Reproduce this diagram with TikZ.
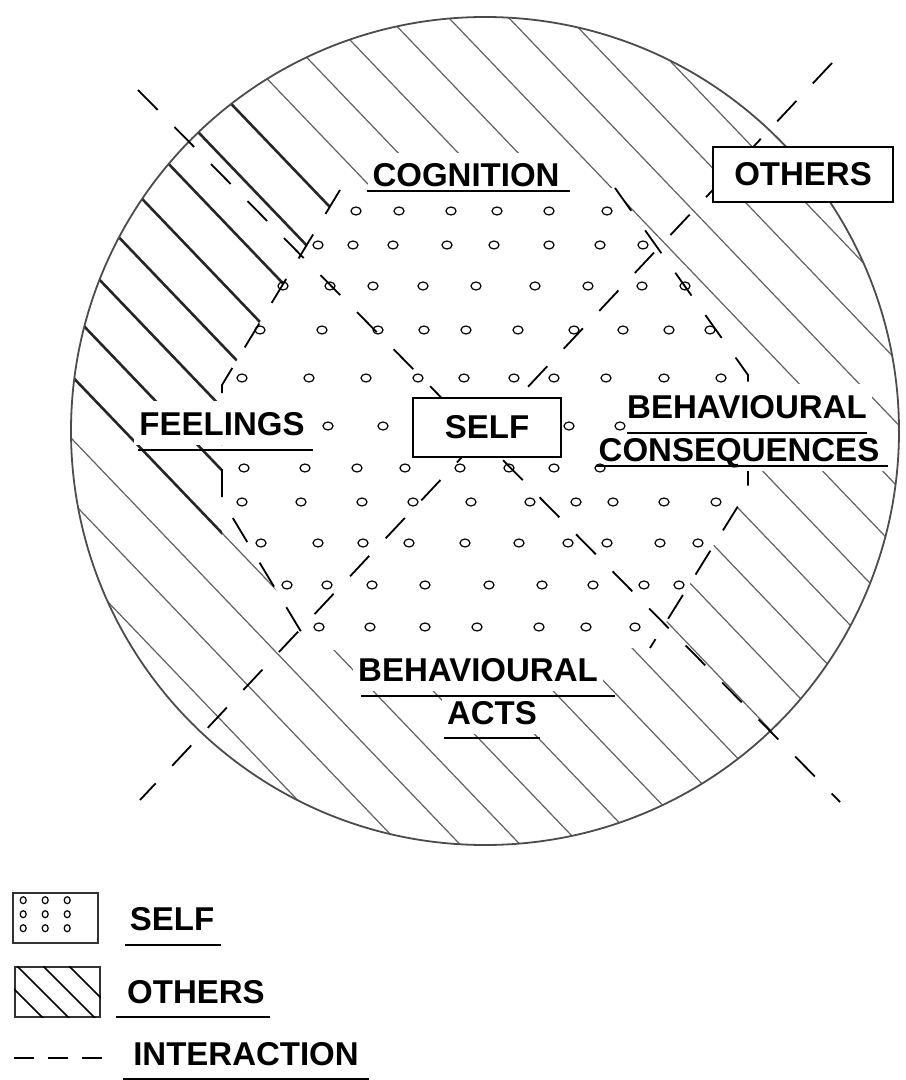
\documentclass[tikz,border=0pt]{standalone}
\usepackage{fontspec}
\setmainfont{Liberation Sans}
\usetikzlibrary{calc}
\newcommand{\labfont}{\fontsize{16.5}{19}\selectfont\bfseries}

\begin{document}
\begin{tikzpicture}[x=0.5pt, y=-0.5pt,
                    hatch/.style={gray!75!black, line width=0.6pt},
                    darkhatch/.style={black!85, line width=1.3pt},
                    interact/.style={line width=0.9pt, dash pattern=on 14pt off 12pt},
                    dot/.style={line width=0.6pt},
                    lab/.style={font=\labfont, fill=white, inner xsep=2.5pt,
                                inner ysep=5pt, text height=12pt, text depth=0pt},
                    labbox/.style={font=\labfont, draw, fill=white, line width=1pt,
                                   inner sep=0pt},
                    keybox/.style={draw=black!80, line width=0.8pt, minimum width=42.5pt,
                                   minimum height=25pt, inner sep=0pt},
                    uline/.style={line width=0.7pt}]
  \useasboundingbox (0,0) rectangle (905,1080);

  % others: hatching inside the circle
  \begin{scope}
    \clip (485,431) circle (414);
    \foreach \k [evaluate=\k as \p using 12+60*\k] in {-13,...,15}
      \draw[hatch] ({\p-96},-100) -- ({\p+957},1000);
    \begin{scope}
      \clip (0,0) -- (200,0) -- (345,192) -- (222,385) -- (222,552) -- (0,310) -- cycle;
      \foreach \k [evaluate=\k as \p using 12+60*\k] in {-5,...,2}
        \draw[darkhatch] ({\p-96},-100) -- ({\p+957},1000);
    \end{scope}
  \end{scope}

  % self: inner region, cut out of the hatching
  \fill[white] (340,190) -- (615,188) -- (748,375) -- (748,490) -- (650,648)
               -- (312,650) -- (222,500) -- (222,385) -- cycle;
  \draw[gray!60!black, line width=0.9pt] (485,431) circle (414);

  % interaction: border of self and the two diagonals
  \draw[interact] (340,190) -- (222,385) -- (222,500) -- (312,650);
  \draw[interact] (615,188) -- (748,375) -- (748,490) -- (650,648);
  \draw[interact] (138,90) -- (840,802);
  \draw[interact] (832,63) -- (140,800);

  % labels
  \node[lab] (cog) at (466,175) {COGNITION};
  \node[lab] (feel) at (222,423) {FEELINGS};
  \node[lab] (bcons) at (747,406) {BEHAVIOURAL};
  \node[lab] (cons) at (739,449) {CONSEQUENCES};
  \node[lab] (bacts) at (478,669) {BEHAVIOURAL};
  \node[lab] (acts) at (492,712) {ACTS};
  \node[labbox, minimum width=74pt, minimum height=29.5pt] (self) at (487,427.5) {SELF};
  \node[labbox, minimum width=90pt, minimum height=27.5pt] (oth) at (803,174.5) {OTHERS};

  \draw[uline] ($(cog.base west)+(0,4)$) -- ($(cog.base east)+(5,4)$);
  \draw[uline] ($(feel.base west)+(4,15)$) -- ($(feel.base east)+(3,15)$);
  \draw[uline] ($(bcons.base west)+(5,15)$) -- ($(bcons.base east)+(-5,15)$);
  \draw[uline] ($(cons.base west)+(3,5)$) -- ($(cons.base east)+(3,5)$);
  \draw[uline] ($(bacts.base west)+(8,15)$) -- ($(bacts.base east)+(12,15)$);
  \draw[uline] ($(acts.base west)+(2,14)$) -- ($(acts.base east)+(-2,14)$);

  % self: rows of small rings
  \foreach \yy/\xs in {211/{356,399,451,497,549,607},
                       245/{318,353,393,447,494,549,600,643},
                       286/{283,330,373,423,476,535,588,642,685},
                       330/{260,322,378,424,466,518,574,623,669,710},
                       378/{242,309,366,418,464,514,554,606,664,721},
                       426/{328,383,569,620},
                       468/{244,305,357,405,460,509,554,600},
                       502/{242,301,362,413,471,530,576,613,664,716},
                       543/{261,318,363,409,465,519,568,607,660,698},
                       585/{287,327,372,425,489,542,593,644,679},
                       627/{319,370,425,477,539,586,635}}
    \foreach \xx in \xs
      \draw[dot] (\xx,\yy) ellipse (5 and 4);

  % key
  \node[keybox] (selfkey) at (55.5,918) {};
  \foreach \i in {0,1,2}
    \foreach \j in {0,1,2}
      \draw[dot] ($(selfkey.north west)+(11+22*\i,8+14*\j)$) ellipse (3 and 3.5);
  \node[keybox] (othkey) at (57.5,992) {};
  \begin{scope}
    \clip (othkey.south west) rectangle (othkey.north east);
    \foreach \s in {-1,...,2}
      \draw[line width=0.8pt] ($(othkey.north west)+(3+26*\s,0)$) -- ++(60,60);
  \end{scope}
  \coordinate (ia) at (14,1058);
  \coordinate (ib) at (104,1058);
  \draw[line width=1pt, dash pattern=on 10pt off 7pt] (ia) -- (ib);

  \node[lab] (selflab) at (172,918) {SELF};
  \node[lab] (othlab) at (196,991) {OTHERS};
  \node[lab] (intlab) at (246,1053) {INTERACTION};
  \draw[uline] ($(selflab.base west)+(1,15)$) -- ($(selflab.base east)+(1,15)$);
  \draw[uline] ($(othlab.base west)+(-6,14)$) -- ($(othlab.base east)+(0,14)$);
  \draw[uline] ($(intlab.base west)+(-5,14)$) -- ($(intlab.base east)+(5,14)$);
\end{tikzpicture}
\end{document}
